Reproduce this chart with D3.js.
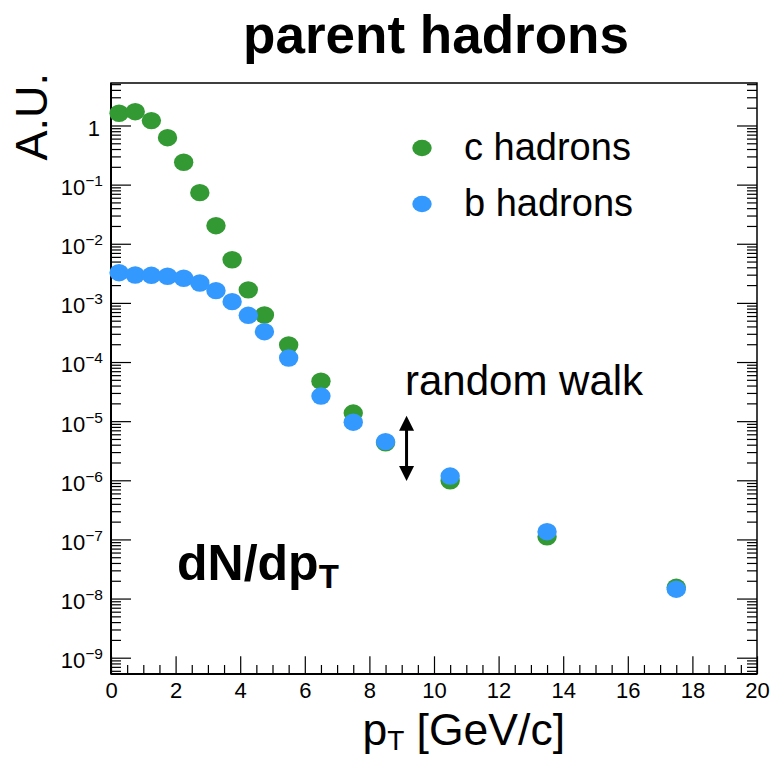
<!DOCTYPE html>
<html>
<head>
<meta charset="utf-8">
<script src="https://cdn.jsdelivr.net/npm/d3@7"></script>
<style>
  html, body { margin: 0; padding: 0; background: #fff; }
  svg { display: block; font-family: "Liberation Sans", Arial, Helvetica, sans-serif; }
</style>
</head>
<body>
<svg id="chart" width="774" height="757"></svg>
<script>
// ---- data ----
const ptBins = [0.25, 0.75, 1.25, 1.75, 2.25, 2.75, 3.25, 3.75, 4.25, 4.75, 5.5, 6.5, 7.5, 8.5, 10.5, 13.5, 17.5];
const cHadrons = [1.61, 1.71, 1.21, 0.622, 0.239, 0.0731, 0.0202, 0.00537, 0.00166, 6.24e-4, 1.94e-4, 4.75e-5, 1.37e-5, 4.3e-6, 9.8e-7, 1.11e-7, 1.55e-8];
const bHadrons = [3.24e-3, 2.96e-3, 2.93e-3, 2.82e-3, 2.61e-3, 2.17e-3, 1.61e-3, 1.05e-3, 6.17e-4, 3.26e-4, 1.17e-4, 2.66e-5, 9.6e-6, 4.5e-6, 1.18e-6, 1.35e-7, 1.44e-8];
const seriesNames = ["c hadrons", "b hadrons"];
const seriesColors = ["#339933", "#3399ff"];
const xMajorTicks = [0, 2, 4, 6, 8, 10, 12, 14, 16, 18, 20];
const yDecades = [1, 1e-1, 1e-2, 1e-3, 1e-4, 1e-5, 1e-6, 1e-7, 1e-8, 1e-9];
const yDecadeExponents = [0, -1, -2, -3, -4, -5, -6, -7, -8, -9];
const arrowPt = 9.15;
const arrowRange = [1.24e-5, 9.7e-7];

// ---- layout ----
const svg = d3.select("#chart");
const L = 111, R = 757, T = 83, B = 674;
const x = d3.scaleLinear().domain([0, 20]).range([L, R]);
const y = d3.scaleLog().domain([5.3e-10, 5.23]).range([B, T]);

// minor ticks
const xMinor = d3.range(0, 20.001, 0.5).filter(v => xMajorTicks.indexOf(v) < 0);
const yMinor = [];
for (let e = -10; e <= 0; e++) {
  for (let m = 2; m <= 9; m++) {
    const v = m * Math.pow(10, e);
    if (v >= 5.3e-10 && v <= 5.23) yMinor.push(v);
  }
}

// bottom axis
const gx = svg.append("g").attr("transform", `translate(0,${B})`);
gx.call(d3.axisBottom(x).tickValues(xMajorTicks).tickSize(-17.7).tickPadding(8).tickFormat(d3.format("d")));
const gxm = svg.append("g").attr("transform", `translate(0,${B})`);
gxm.call(d3.axisBottom(x).tickValues(xMinor).tickSize(-9).tickFormat(""));

// left axis
const gy = svg.append("g").attr("transform", `translate(${L},0)`);
gy.call(d3.axisLeft(y).tickValues(yDecades).tickSize(-20).tickPadding(8).tickFormat(""));
const gym = svg.append("g").attr("transform", `translate(${L},0)`);
gym.call(d3.axisLeft(y).tickValues(yMinor).tickSize(-10).tickFormat(""));

// right axis ticks
const gr = svg.append("g").attr("transform", `translate(${R},0)`);
gr.call(d3.axisRight(y).tickValues(yDecades).tickSize(-20).tickFormat(""));
const grm = svg.append("g").attr("transform", `translate(${R},0)`);
grm.call(d3.axisRight(y).tickValues(yMinor).tickSize(-10).tickFormat(""));

svg.selectAll(".domain").remove();
svg.selectAll(".tick line").attr("stroke", "#000").attr("stroke-width", 1.2);

// x tick labels style
gx.selectAll("text").attr("font-size", 22).attr("fill", "#000")
  .attr("font-family", "Liberation Sans, Arial, sans-serif");

// y tick labels with superscripts
gy.selectAll(".tick").each(function(d, i) {
  const t = d3.select(this).select("text");
  t.text("").attr("font-size", 22).attr("fill", "#000").attr("dy", "0.45em")
   .attr("font-family", "Liberation Sans, Arial, sans-serif");
  const ex = yDecadeExponents[i];
  if (ex === 0) {
    t.append("tspan").text("1").attr("dx", -3);
  } else {
    t.append("tspan").text("10");
    t.append("tspan").text("\u2212" + Math.abs(ex)).attr("font-size", 15.5).attr("dy", -9);
  }
});

// frame
svg.append("rect").attr("x", L).attr("y", T).attr("width", R - L).attr("height", B - T)
  .attr("fill", "none").attr("stroke", "#000").attr("stroke-width", 1.5);
svg.append("line").attr("x1", L).attr("x2", L).attr("y1", T).attr("y2", B).attr("stroke", "#000").attr("stroke-width", 2);
svg.append("line").attr("x1", L).attr("x2", R).attr("y1", B).attr("y2", B).attr("stroke", "#000").attr("stroke-width", 2);

// data points
const series = [cHadrons, bHadrons];
series.forEach((vals, si) => {
  svg.append("g").selectAll("ellipse").data(vals).join("ellipse")
    .attr("cx", (d, i) => x(ptBins[i]))
    .attr("cy", d => y(d))
    .attr("rx", 9.7).attr("ry", 8.7)
    .attr("fill", seriesColors[si]);
});

// legend
const legY = [148, 204];
seriesNames.forEach((n, i) => {
  svg.append("ellipse").attr("cx", 422).attr("cy", legY[i]).attr("rx", 9.7).attr("ry", 8.3).attr("fill", seriesColors[i]);
  svg.append("text").attr("x", 464).attr("y", legY[i] + 12).attr("font-size", 38).attr("fill", "#000").text(n);
});

// arrow
const ax = x(arrowPt);
const ay1 = y(arrowRange[0]), ay2 = y(arrowRange[1]);
svg.append("line").attr("x1", ax).attr("x2", ax).attr("y1", ay1 + 12).attr("y2", ay2 - 12)
  .attr("stroke", "#000").attr("stroke-width", 3);
svg.append("path").attr("d", `M${ax},${ay1} L${ax - 7.5},${ay1 + 15} L${ax + 7.5},${ay1 + 15} Z`).attr("fill", "#000");
svg.append("path").attr("d", `M${ax},${ay2} L${ax - 7.5},${ay2 - 15} L${ax + 7.5},${ay2 - 15} Z`).attr("fill", "#000");

// texts
svg.append("text").attr("x", 405).attr("y", 395).attr("font-size", 42).attr("fill", "#000").text("random walk");

const dn = svg.append("text").attr("x", 177).attr("y", 580).attr("font-size", 50).attr("font-weight", "bold").attr("fill", "#000");
dn.append("tspan").text("dN/dp");
dn.append("tspan").text("T").attr("font-size", 33).attr("dy", 8);

svg.append("text").attr("x", 436).attr("y", 53).attr("text-anchor", "middle")
  .attr("font-size", 53).attr("font-weight", "bold").attr("fill", "#000").text("parent hadrons");

svg.append("text").attr("transform", "translate(47,73) rotate(-90)").attr("text-anchor", "end")
  .attr("font-size", 45).attr("fill", "#000").text("A.U.");

const xt = svg.append("text").attr("x", 565).attr("y", 745).attr("text-anchor", "end").attr("font-size", 44.5).attr("fill", "#000");
xt.append("tspan").text("p");
xt.append("tspan").text("T").attr("font-size", 28).attr("dy", 5);
xt.append("tspan").text(" [GeV/c]").attr("dy", -5);
</script>
</body>
</html>
